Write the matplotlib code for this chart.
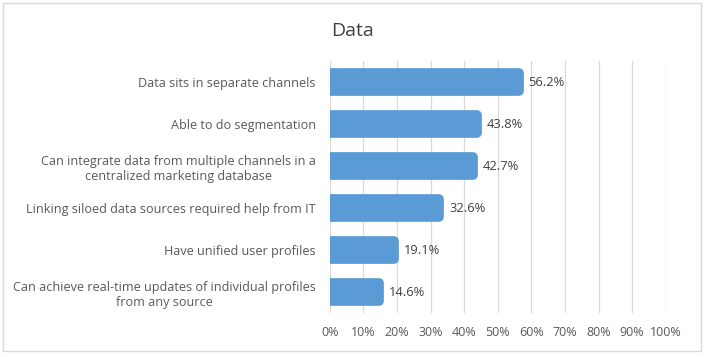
import matplotlib
matplotlib.use("Agg")
import matplotlib.pyplot as plt
from matplotlib.patches import Rectangle

categories = [
    "Data sits in separate channels",
    "Able to do segmentation",
    "Can integrate data from multiple channels in a\ncentralized marketing database",
    "Linking siloed data sources required help from IT",
    "Have unified user profiles",
    "Can achieve real-time updates of individual profiles\nfrom any source",
]
values = [56.2, 43.8, 42.7, 32.6, 19.1, 14.6]
tick_values = [0, 10, 20, 30, 40, 50, 60, 70, 80, 90, 100]
tick_labels = [f"{v}%" for v in tick_values]
title = "Data"

plt.rcParams['font.family'] = ['Open Sans', 'DejaVu Sans']
text_color = "#595959"
bar_color = "#5B9BD5"

fig = plt.figure(figsize=(7.05, 3.57), dpi=100)
fig.patches.append(Rectangle((0.004, 0.017), 0.99, 0.975, transform=fig.transFigure,
                             fill=False, edgecolor="#D9D9D9", linewidth=1))
ax = fig.add_axes([0.4677, 0.1232, 0.4766, 0.7058])

y = list(range(len(categories)))
bars = ax.barh(y, values, height=0.42, color=bar_color, edgecolor=bar_color,
               linewidth=7, joinstyle='round', zorder=3)
for b in bars:
    b.set_clip_on(True)

ax.set_xlim(0, 100)
ax.set_ylim(len(categories) - 0.5, -0.5)
ax.set_xticks(tick_values)
ax.set_xticklabels(tick_labels, fontsize=9, color=text_color)
ax.set_yticks(y)
ax.set_yticklabels(categories, fontsize=9.1, color=text_color, multialignment='center')
ax.tick_params(axis='both', length=0)
ax.tick_params(axis='y', pad=10)
ax.tick_params(axis='x', pad=9)
ax.grid(axis='x', color="#D9D9D9", linewidth=0.9, zorder=0)
for s in ax.spines.values():
    s.set_visible(False)

for yi, v in zip(y, values):
    ax.annotate(f"{v:.1f}%", (v, yi), xytext=(7, 0), textcoords='offset points',
                va='center', ha='left', fontsize=9.3, color="#404040")

fig.text(0.5, 0.912, title, ha='center', va='center', fontsize=14, color="#404040")

fig.savefig("out.png", dpi=100)
